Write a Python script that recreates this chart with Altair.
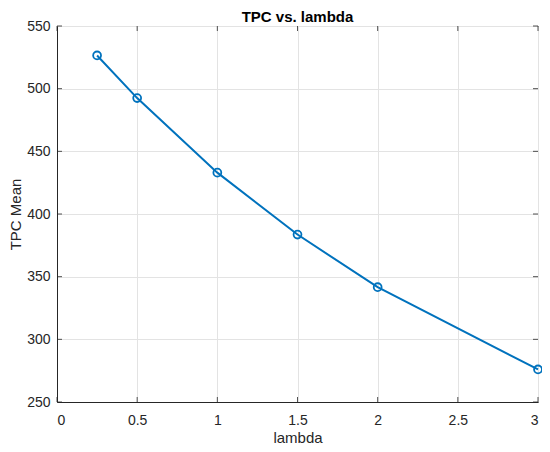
import altair as alt
import pandas as pd

lam = [0.25, 0.5, 1.0, 1.5, 2.0, 3.0]
tpc = [526.5, 492.5, 433.0, 383.6, 341.6, 276.0]
x_ticks = [0, 0.5, 1, 1.5, 2, 2.5, 3]
y_ticks = [250, 300, 350, 400, 450, 500, 550]
title_text = ["TPC vs. lambda"]

W, H = 481, 376
BLUE = "#0072BD"
AX = "#262626"
FONT = "Liberation Sans"

df = pd.DataFrame({"lambda": lam, "tpc": tpc})
dfx = pd.DataFrame({"t": x_ticks})
dfy = pd.DataFrame({"t": y_ticks})
dft = pd.DataFrame({"title": title_text})

xs = alt.Scale(domain=[0, 3], nice=False, zero=False)
ys = alt.Scale(domain=[250, 550], nice=False, zero=False)

x_axis = alt.Axis(values=x_ticks, format="~g", title="lambda", grid=True,
                  ticks=False, tickSize=0, labelPadding=11, labelFontSize=14,
                  titleX=W / 2, titleY=40, titleBaseline="alphabetic",
                  titleAlign="center", titleFontSize=15, titleFontWeight="normal")
y_axis = alt.Axis(values=y_ticks, format="d", title="TPC Mean", grid=True,
                  ticks=False, tickSize=0, labelPadding=7, labelFontSize=14,
                  titleX=-37, titleY=H / 2, titleBaseline="alphabetic",
                  titleAlign="center", titleAngle=270, titleFontSize=15,
                  titleFontWeight="normal")

line = alt.Chart(df).mark_line(color=BLUE, strokeWidth=2).encode(
    x=alt.X("lambda:Q", scale=xs, axis=x_axis),
    y=alt.Y("tpc:Q", scale=ys, axis=y_axis),
)
pts = alt.Chart(df).mark_point(shape="circle", filled=False, color=BLUE,
                               strokeWidth=1.8, size=62, opacity=1).encode(
    x=alt.X("lambda:Q", scale=xs),
    y=alt.Y("tpc:Q", scale=ys),
)

tick_style = dict(color=AX, strokeWidth=0.8)
tb = alt.Chart(dfx).mark_rule(**tick_style).encode(
    x=alt.X("t:Q", scale=xs), y=alt.value(H), y2=alt.value(H - 5))
tt = alt.Chart(dfx).mark_rule(**tick_style).encode(
    x=alt.X("t:Q", scale=xs), y=alt.value(0), y2=alt.value(5))
tl = alt.Chart(dfy).mark_rule(**tick_style).encode(
    y=alt.Y("t:Q", scale=ys), x=alt.value(0), x2=alt.value(5))
tr = alt.Chart(dfy).mark_rule(**tick_style).encode(
    y=alt.Y("t:Q", scale=ys), x=alt.value(W), x2=alt.value(W - 5))

title = alt.Chart(dft).mark_text(
    font=FONT, fontSize=15, fontWeight="bold", color="#000000",
    align="center", baseline="alphabetic"
).encode(text="title:N", x=alt.value(W / 2), y=alt.value(-4))

chart = alt.layer(tb, tt, tl, tr, line, pts, title).properties(
    width=W, height=H,
    autosize=alt.AutoSizeParams(type="none"),
    padding={"left": 49, "top": 18, "right": 4, "bottom": 42},
).configure(
    background="white"
).configure_view(
    stroke=AX, strokeWidth=1
).configure_axis(
    labelFont=FONT, titleFont=FONT, labelColor=AX, titleColor=AX,
    titleFontWeight="normal", domainColor=AX, domainWidth=1,
    gridColor="#e3e3e3", gridWidth=1,
)

chart.save("out.html", embed_options={"renderer": "svg", "actions": False})
